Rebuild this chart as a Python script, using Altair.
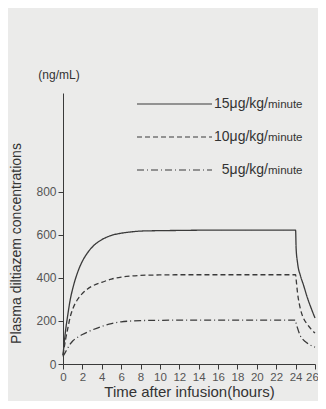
import altair as alt
import pandas as pd

# ---- data ----
times = [0, 0.25, 0.5, 0.75, 1, 1.5, 2, 2.5, 3, 4, 5, 6, 7, 8, 10, 12, 14, 16,
         18, 20, 22, 24, 24.05, 24.2, 24.5, 24.8, 25.2, 25.6, 26]
conc_15 = [40, 150, 230, 300, 350, 425, 478, 515, 543, 578, 598, 608, 614, 618,
           620, 621, 622, 622, 622, 622, 622, 622, 540, 470, 410, 369, 310, 260, 214]
conc_10 = [40, 110, 167, 220, 255, 300, 328, 348, 362, 380, 395, 404, 409, 412,
           414, 415, 415, 415, 415, 415, 415, 415, 395, 330, 255, 214, 185, 162, 144]
conc_5 = [35, 55, 75, 93, 107, 124, 137, 148, 158, 175, 188, 196, 200, 202,
          203, 204, 204, 204, 204, 204, 204, 204, 190, 167, 130, 112, 97, 86, 78]
series_names = ["15", "10", "5"]
legend_main = ["15μg/kg/", "10μg/kg/", "5μg/kg/"]
legend_unit = "minute"
x_ticks = list(range(0, 27, 2))
y_ticks = [0, 200, 400, 600, 800]
unit_label = "(ng/mL)"
x_title = "Time after infusion(hours)"
y_title = "Plasma diltiazem concentrations"

rows = []
for name, vals in zip(series_names, [conc_15, conc_10, conc_5]):
    for t, v in zip(times, vals):
        rows.append({"time": t, "conc": v, "series": name})
df = pd.DataFrame(rows)

leg = pd.DataFrame({"series": series_names, "main": legend_main,
                    "unit": [legend_unit] * 3, "row": list(range(3))})

ink = "#3a3a3a"
font = "Liberation Sans"
dash_scale = alt.Scale(domain=series_names, range=[[1, 0], [5, 3], [7, 3, 1, 3]])

lines = alt.Chart(df).mark_line(color=ink, strokeWidth=1.3, interpolate="monotone").encode(
    x=alt.X("time:Q", scale=alt.Scale(domain=[0, 26], nice=False),
            axis=alt.Axis(values=x_ticks, title=x_title, grid=False, format="d",
                          domainColor=ink, tickColor=ink, tickSize=5,
                          labelColor="#555", labelFontSize=11.5, labelFont=font,
                          labelOverlap=False, labelFlush=False,
                          labelOffset={"condition": {"test": "datum.value == 26", "value": -3},
                                       "value": 0},
                          titleFont=font, titleFontSize=15, titleFontWeight="normal",
                          titleColor="#333", titlePadding=2, labelPadding=2)),
    y=alt.Y("conc:Q", scale=alt.Scale(domain=[0, 1260], nice=False),
            axis=alt.Axis(values=y_ticks, title=y_title, grid=False,
                          domainColor=ink, tickColor=ink, tickSize=5,
                          labelColor="#555", labelFontSize=12, labelFont=font,
                          titleFont=font, titleFontSize=14, titleFontWeight="normal",
                          titleColor="#333", titlePadding=12, labelPadding=2,
                          titleY=150)),
    strokeDash=alt.StrokeDash("series:N", scale=dash_scale, legend=None),
    detail="series:N",
)

row_y = alt.Y("row:Q", scale=alt.Scale(domain=[0, 2], range=[11, 77]), axis=None)

leg_rules = alt.Chart(leg).mark_rule(color=ink, strokeWidth=1.2).encode(
    x=alt.value(74), x2=alt.value(149), y=row_y,
    strokeDash=alt.StrokeDash("series:N", scale=dash_scale, legend=None),
)
leg_main = alt.Chart(leg).mark_text(align="right", baseline="middle", fontSize=14,
                                    font=font, color="#333").encode(
    x=alt.value(205), y=row_y, text="main:N")
leg_unit = alt.Chart(leg).mark_text(align="left", baseline="middle", fontSize=11.5,
                                    font=font, color="#333", dy=1).encode(
    x=alt.value(205), y=row_y, text="unit:N")

unit = alt.Chart(pd.DataFrame({"t": [unit_label]})).mark_text(
    align="center", baseline="middle", fontSize=12, font=font, color="#333").encode(
    x=alt.value(-4), y=alt.value(-18), text="t:N")

chart = alt.layer(lines, leg_rules, leg_main, leg_unit, unit).resolve_scale(
    y="independent"
).properties(
    width=252, height=271,
    autosize=alt.AutoSizeParams(type="none"),
    padding={"left": 55, "top": 85, "right": 3, "bottom": 37},
    background="#ebebea",
).configure_view(stroke=None)

chart.save("out.html", embed_options={"renderer": "svg", "actions": False})
